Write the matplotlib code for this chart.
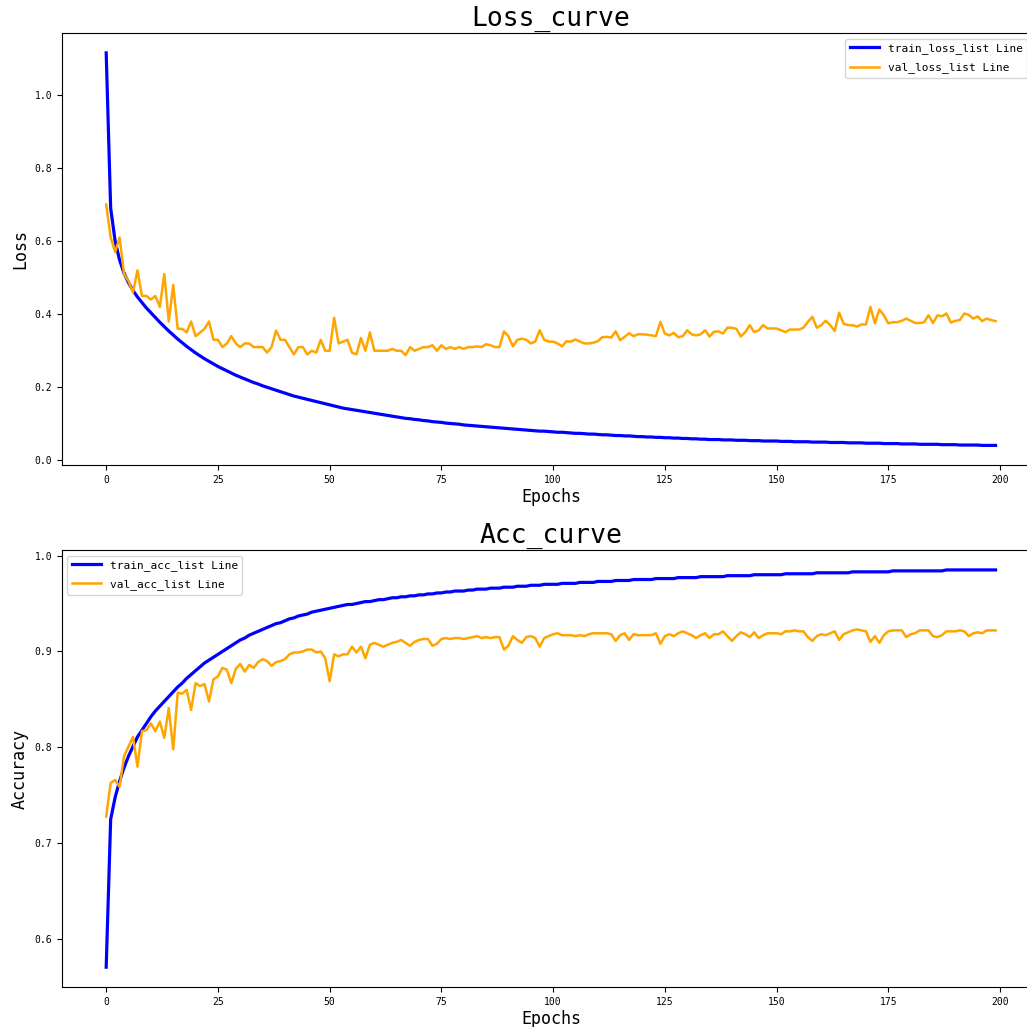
import matplotlib
matplotlib.use("Agg")
import matplotlib.pyplot as plt

plt.rcParams['font.family'] = ['DejaVu Sans Mono']

train_loss_list = [
    1.115, 0.690, 0.600, 0.548, 0.512, 0.486, 0.465, 0.447, 0.432, 0.417,
    0.404, 0.391, 0.378, 0.366, 0.354, 0.343, 0.332, 0.322, 0.312, 0.303,
    0.294, 0.286, 0.278, 0.271, 0.264, 0.257, 0.251, 0.245, 0.239, 0.233,
    0.228, 0.223, 0.218, 0.213, 0.209, 0.204, 0.200, 0.196, 0.192, 0.188,
    0.184, 0.180, 0.176, 0.173, 0.170, 0.167, 0.164, 0.161, 0.158, 0.155,
    0.152, 0.149, 0.146, 0.143, 0.141, 0.139, 0.137, 0.135, 0.133, 0.131,
    0.129, 0.127, 0.125, 0.123, 0.121, 0.119, 0.117, 0.115, 0.114, 0.112,
    0.111, 0.109, 0.108, 0.106, 0.105, 0.104, 0.102, 0.101, 0.100, 0.099,
    0.097, 0.096, 0.095, 0.094, 0.093, 0.092, 0.091, 0.090, 0.089, 0.088,
    0.087, 0.086, 0.085, 0.084, 0.083, 0.082, 0.081, 0.080, 0.080, 0.079,
    0.078, 0.077, 0.077, 0.076, 0.075, 0.074, 0.074, 0.073, 0.072, 0.072,
    0.071, 0.070, 0.070, 0.069, 0.068, 0.068, 0.067, 0.067, 0.066, 0.065,
    0.065, 0.064, 0.064, 0.063, 0.063, 0.062, 0.062, 0.061, 0.061, 0.060,
    0.060, 0.059, 0.059, 0.058, 0.058, 0.057, 0.057, 0.057, 0.056, 0.056,
    0.056, 0.055, 0.055, 0.055, 0.054, 0.054, 0.054, 0.053, 0.053, 0.053,
    0.053, 0.052, 0.052, 0.052, 0.051, 0.051, 0.051, 0.051, 0.050, 0.050,
    0.050, 0.050, 0.049, 0.049, 0.049, 0.049, 0.048, 0.048, 0.048, 0.048,
    0.047, 0.047, 0.047, 0.047, 0.046, 0.046, 0.046, 0.046, 0.045, 0.045,
    0.045, 0.045, 0.044, 0.044, 0.044, 0.044, 0.044, 0.043, 0.043, 0.043,
    0.043, 0.042, 0.042, 0.042, 0.042, 0.042, 0.041, 0.041, 0.041, 0.041,
]

val_loss_list = [
    0.700, 0.610, 0.570, 0.610, 0.510, 0.490, 0.460, 0.520, 0.450, 0.450,
    0.440, 0.450, 0.420, 0.510, 0.380, 0.480, 0.360, 0.360, 0.350, 0.380,
    0.340, 0.350, 0.360, 0.380, 0.330, 0.330, 0.310, 0.320, 0.340, 0.320,
    0.310, 0.320, 0.320, 0.310, 0.310, 0.310, 0.295, 0.310, 0.355, 0.330,
    0.330, 0.310, 0.290, 0.310, 0.310, 0.290, 0.300, 0.295, 0.330, 0.300,
    0.300, 0.390, 0.320, 0.325, 0.330, 0.295, 0.290, 0.335, 0.300, 0.350,
    0.300, 0.300, 0.300, 0.300, 0.305, 0.300, 0.300, 0.288, 0.310, 0.300,
    0.305, 0.310, 0.310, 0.315, 0.300, 0.315, 0.305, 0.310, 0.305, 0.310,
    0.305, 0.310, 0.310, 0.312, 0.310, 0.318, 0.315, 0.310, 0.310, 0.353,
    0.340, 0.312, 0.330, 0.333, 0.330, 0.320, 0.325, 0.356, 0.330, 0.325,
    0.325, 0.320, 0.312, 0.326, 0.325, 0.331, 0.325, 0.320, 0.320, 0.322,
    0.326, 0.337, 0.338, 0.336, 0.353, 0.329, 0.338, 0.348, 0.340, 0.345,
    0.345, 0.344, 0.342, 0.340, 0.379, 0.347, 0.342, 0.349, 0.337, 0.340,
    0.356, 0.345, 0.342, 0.345, 0.356, 0.339, 0.352, 0.353, 0.347, 0.363,
    0.363, 0.360, 0.339, 0.351, 0.370, 0.351, 0.356, 0.370, 0.361, 0.361,
    0.361, 0.356, 0.351, 0.358, 0.358, 0.358, 0.363, 0.379, 0.393, 0.363,
    0.370, 0.382, 0.370, 0.354, 0.404, 0.374, 0.370, 0.370, 0.366, 0.372,
    0.372, 0.420, 0.375, 0.413, 0.397, 0.375, 0.378, 0.378, 0.382, 0.388,
    0.382, 0.376, 0.376, 0.378, 0.397, 0.376, 0.397, 0.394, 0.402, 0.377,
    0.382, 0.384, 0.402, 0.398, 0.388, 0.394, 0.381, 0.388, 0.384, 0.381,
]

train_acc_list = [
    0.571, 0.725, 0.748, 0.765, 0.779, 0.791, 0.801, 0.811, 0.818, 0.825,
    0.832, 0.838, 0.843, 0.848, 0.853, 0.858, 0.863, 0.867, 0.872, 0.876,
    0.880, 0.884, 0.888, 0.891, 0.894, 0.897, 0.900, 0.903, 0.906, 0.909,
    0.912, 0.914, 0.917, 0.919, 0.921, 0.923, 0.925, 0.927, 0.929, 0.930,
    0.932, 0.934, 0.935, 0.937, 0.938, 0.939, 0.941, 0.942, 0.943, 0.944,
    0.945, 0.946, 0.947, 0.948, 0.949, 0.949, 0.950, 0.951, 0.952, 0.952,
    0.953, 0.954, 0.954, 0.955, 0.956, 0.956, 0.957, 0.957, 0.958, 0.958,
    0.959, 0.959, 0.960, 0.960, 0.961, 0.961, 0.962, 0.962, 0.963, 0.963,
    0.963, 0.964, 0.964, 0.965, 0.965, 0.965, 0.966, 0.966, 0.966, 0.967,
    0.967, 0.967, 0.968, 0.968, 0.968, 0.969, 0.969, 0.969, 0.970, 0.970,
    0.970, 0.970, 0.971, 0.971, 0.971, 0.971, 0.972, 0.972, 0.972, 0.972,
    0.973, 0.973, 0.973, 0.973, 0.974, 0.974, 0.974, 0.974, 0.975, 0.975,
    0.975, 0.975, 0.975, 0.976, 0.976, 0.976, 0.976, 0.976, 0.977, 0.977,
    0.977, 0.977, 0.977, 0.978, 0.978, 0.978, 0.978, 0.978, 0.978, 0.979,
    0.979, 0.979, 0.979, 0.979, 0.979, 0.980, 0.980, 0.980, 0.980, 0.980,
    0.980, 0.980, 0.981, 0.981, 0.981, 0.981, 0.981, 0.981, 0.981, 0.982,
    0.982, 0.982, 0.982, 0.982, 0.982, 0.982, 0.982, 0.983, 0.983, 0.983,
    0.983, 0.983, 0.983, 0.983, 0.983, 0.983, 0.984, 0.984, 0.984, 0.984,
    0.984, 0.984, 0.984, 0.984, 0.984, 0.984, 0.984, 0.984, 0.985, 0.985,
    0.985, 0.985, 0.985, 0.985, 0.985, 0.985, 0.985, 0.985, 0.985, 0.985,
]

val_acc_list = [
    0.728, 0.763, 0.766, 0.759, 0.791, 0.801, 0.811, 0.780, 0.817, 0.818,
    0.825, 0.817, 0.827, 0.810, 0.841, 0.798, 0.857, 0.856, 0.860, 0.839,
    0.867, 0.864, 0.866, 0.848, 0.871, 0.874, 0.883, 0.881, 0.867, 0.882,
    0.887, 0.879, 0.886, 0.883, 0.889, 0.892, 0.890, 0.885, 0.889, 0.890,
    0.892, 0.897, 0.899, 0.899, 0.900, 0.902, 0.902, 0.899, 0.900, 0.893,
    0.869, 0.897, 0.895, 0.897, 0.897, 0.905, 0.899, 0.905, 0.893, 0.907,
    0.909, 0.907, 0.905, 0.907, 0.909, 0.910, 0.912, 0.909, 0.906, 0.910,
    0.912, 0.913, 0.913, 0.906, 0.908, 0.913, 0.914, 0.913, 0.914, 0.914,
    0.913, 0.914, 0.915, 0.916, 0.914, 0.915, 0.914, 0.915, 0.915, 0.902,
    0.906, 0.916, 0.912, 0.909, 0.915, 0.916, 0.914, 0.905, 0.914, 0.916,
    0.918, 0.919, 0.917, 0.917, 0.917, 0.916, 0.917, 0.916, 0.918, 0.919,
    0.919, 0.919, 0.919, 0.918, 0.911, 0.917, 0.919, 0.912, 0.918, 0.917,
    0.917, 0.917, 0.917, 0.919, 0.908, 0.916, 0.918, 0.916, 0.919, 0.921,
    0.919, 0.917, 0.914, 0.917, 0.919, 0.914, 0.918, 0.918, 0.921, 0.916,
    0.911, 0.916, 0.920, 0.918, 0.915, 0.920, 0.914, 0.917, 0.919, 0.919,
    0.919, 0.918, 0.921, 0.921, 0.922, 0.921, 0.921, 0.915, 0.911, 0.916,
    0.918, 0.917, 0.919, 0.921, 0.912, 0.918, 0.920, 0.922, 0.923, 0.922,
    0.921, 0.910, 0.916, 0.909, 0.917, 0.921, 0.922, 0.922, 0.922, 0.915,
    0.918, 0.919, 0.922, 0.922, 0.922, 0.916, 0.915, 0.917, 0.921, 0.921,
    0.921, 0.922, 0.921, 0.916, 0.919, 0.920, 0.919, 0.922, 0.922, 0.922,
]

epochs = list(range(len(train_loss_list)))

fig = plt.figure(figsize=(10.27, 10.27), dpi=100)

# top: loss (axes runs a bit past the right edge, like the original crop)
ax1 = fig.add_axes([0.0601, 0.5472, 0.9526, 0.4204])
ax1.plot(epochs, train_loss_list, color='blue', linewidth=2.3, label='train_loss_list Line')
ax1.plot(epochs, val_loss_list, color='orange', linewidth=1.8, label='val_loss_list Line')
ax1.set_title('Loss_curve', fontsize=19, pad=5)
ax1.set_xlabel('Epochs', fontsize=12, labelpad=2)
ax1.set_ylabel('Loss', fontsize=12)
ax1.tick_params(labelsize=7)
ax1.legend(loc='upper right', bbox_to_anchor=(0.9925, 1.0), fontsize=8,
           handlelength=2.6, labelspacing=0.75)

# bottom: accuracy
ax2 = fig.add_axes([0.0601, 0.0389, 0.9526, 0.4255])
ax2.plot(epochs, train_acc_list, color='blue', linewidth=2.3, label='train_acc_list Line')
ax2.plot(epochs, val_acc_list, color='orange', linewidth=1.8, label='val_acc_list Line')
ax2.set_title('Acc_curve', fontsize=19, pad=5)
ax2.set_xlabel('Epochs', fontsize=12, labelpad=2)
ax2.set_ylabel('Accuracy', fontsize=12)
ax2.tick_params(labelsize=7)
ax2.legend(loc='upper left', fontsize=8, handlelength=2.6, labelspacing=0.75)

plt.savefig('out.png', dpi=100)
